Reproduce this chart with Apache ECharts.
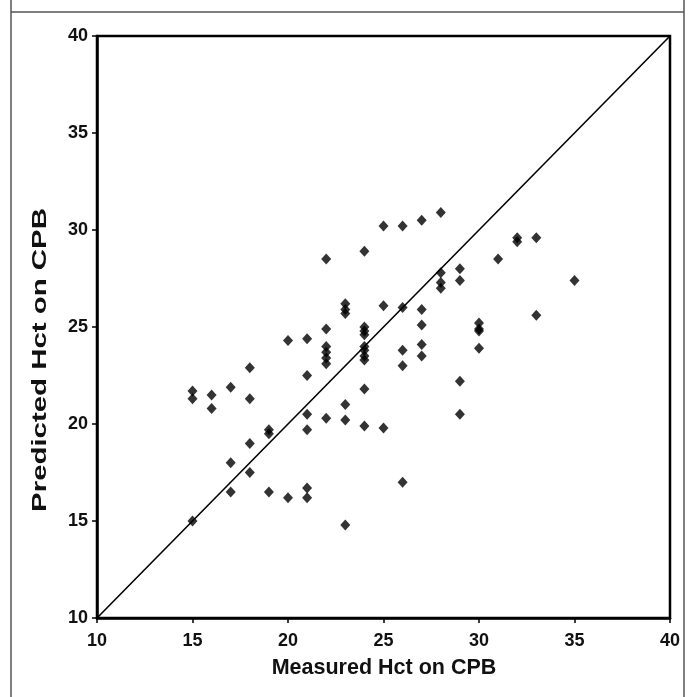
<!DOCTYPE html>
<html>
<head>
<meta charset="utf-8">
<script src="https://cdn.jsdelivr.net/npm/echarts@6/dist/echarts.min.js"></script>
<style>
html,body{margin:0;padding:0;background:#fff;}
#c{width:693px;height:697px;}
</style>
</head>
<body>
<div id="c"></div>
<script>
// Measured Hct on CPB (x) and Predicted Hct on CPB (y)
var measured = [
  15,15,15,
  16,16,
  17,17,17,
  18,18,18,18,
  19,19,19,
  20,20,
  21,21,21,21,21,21,
  22,22,22,22,22,22,22,
  23,23,23,23,23,23,
  24,24,24,24,24,24,24,24,24,24,
  25,25,25,
  26,26,26,26,26,
  27,27,27,27,27,
  28,28,28,28,
  29,29,29,29,
  30,30,30,30,
  31,
  32,32,
  33,33,
  35
];
var predicted = [
  21.7,21.3,15.0,
  21.5,20.8,
  21.9,18.0,16.5,
  22.9,21.3,19.0,17.5,
  19.7,19.5,16.5,
  24.3,16.2,
  24.4,22.5,20.5,19.7,16.7,16.2,
  28.5,24.9,24.0,23.7,23.4,23.1,20.3,
  26.2,25.9,25.7,21.0,20.2,14.8,
  28.9,25.0,24.8,24.6,24.0,23.8,23.5,23.3,21.8,19.9,
  30.2,26.1,19.8,
  30.2,26.0,23.8,23.0,17.0,
  30.5,25.9,25.1,24.1,23.5,
  30.9,27.8,27.3,27.0,
  28.0,27.4,22.2,20.5,
  25.2,24.9,24.8,23.9,
  28.5,
  29.6,29.4,
  29.6,25.6,
  27.4
];
var identityLine = [10, 40];
var axisMin = 10, axisMax = 40, axisStep = 5;
var xTitle = 'Measured Hct on CPB';
var yTitle = 'Predicted Hct on CPB';

var pts = measured.map(function(m, i){ return [m, predicted[i]]; });
var diag = identityLine.map(function(v){ return [v, v]; });

var chart = echarts.init(document.getElementById('c'), null, {renderer:'canvas'});
var FONT = '"Liberation Sans", Arial, sans-serif';
var axisCommon = {
  type: 'value', min: axisMin, max: axisMax, interval: axisStep,
  splitLine: {show:false},
  axisLine: {show:true, lineStyle:{color:'#000', width:2.5}},
  axisTick: {show:true, inside:false, length:5, lineStyle:{color:'#000', width:1.5}},
  axisLabel: {color:'#111', fontFamily:FONT, fontWeight:'bold', fontSize:18}
};
chart.setOption({
  backgroundColor:'#fff',
  animation:false,
  grid:{left:97, right:23, top:36, bottom:79, show:true, borderColor:'#000', borderWidth:2.5, backgroundColor:'transparent'},
  xAxis: Object.assign({}, axisCommon, {axisLabel: Object.assign({}, axisCommon.axisLabel, {margin:14})}),
  yAxis: Object.assign({}, axisCommon, {axisLabel: Object.assign({}, axisCommon.axisLabel, {margin:9})}),
  graphic: [
    {type:'line', shape:{x1:11, y1:0, x2:11, y2:697}, style:{stroke:'#555', lineWidth:1.5}},
    {type:'line', shape:{x1:684, y1:0, x2:684, y2:697}, style:{stroke:'#555', lineWidth:1.5}},
    {type:'line', shape:{x1:11, y1:12, x2:684, y2:12}, style:{stroke:'#555', lineWidth:1.5}},
    {type:'text', x:384, y:668, style:{text:xTitle, font:'bold 21.5px ' + FONT, fill:'#111', textAlign:'center', textVerticalAlign:'middle'}},
    {type:'text', x:40, y:360, rotation:Math.PI/2, scaleX:1.4, style:{text:yTitle, font:'bold 21px ' + FONT, fill:'#111', textAlign:'center', textVerticalAlign:'middle'}}
  ],
  series: [
    {type:'line', data:diag, symbol:'none', lineStyle:{color:'#000', width:1.6}, z:2},
    {type:'scatter', data:pts, symbol:'diamond', symbolSize:[10,11], itemStyle:{color:'#000'}, z:3}
  ]
});
</script>
</body>
</html>
